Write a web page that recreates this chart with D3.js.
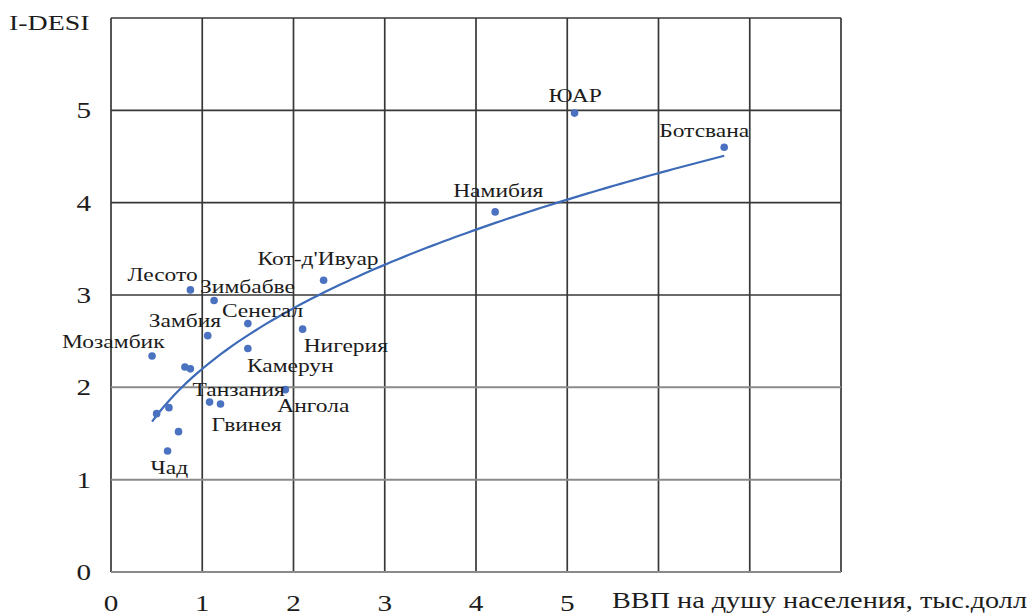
<!DOCTYPE html>
<html>
<head>
<meta charset="utf-8">
<script src="https://cdn.jsdelivr.net/npm/d3@7/dist/d3.min.js"></script>
<style>
  html, body { margin: 0; padding: 0; background: #fff; }
</style>
</head>
<body>
<svg id="chart" width="1035" height="616"></svg>
<script>
// Countries, GDP per capita (thousand USD) and I-DESI index
const countries = ["Лесото", "Зимбабве", "Кот-д'Ивуар", "Сенегал", "Замбия", "Нигерия",
  "Мозамбик", "Камерун", "", "", "Ангола", "Танзания", "Гвинея", "", "", "", "Чад",
  "ЮАР", "Намибия", "Ботсвана"];
const gdpPerCapita = [0.87, 1.13, 2.33, 1.50, 1.06, 2.10, 0.45, 1.50, 0.81, 0.87, 1.91,
  1.08, 1.20, 0.635, 0.50, 0.74, 0.62, 5.08, 4.21, 6.72];
const iDesi = [3.055, 2.94, 3.16, 2.69, 2.56, 2.63, 2.34, 2.42, 2.22, 2.20, 1.975,
  1.84, 1.82, 1.78, 1.715, 1.52, 1.31, 4.97, 3.90, 4.60];

const xTickLabels = ["0", "1", "2", "3", "4", "5"];
const yTickLabels = ["0", "1", "2", "3", "4", "5"];
const xTitle = "ВВП на душу населения, тыс.долл";
const yTitle = "I-DESI";

// Label placement relative to each point (pixels)
const labelOffsets = {
  "Лесото": [-63, -9], "Зимбабве": [-14, -8], "Кот-д'Ивуар": [-66, -15],
  "Сенегал": [-26, -7], "Замбия": [-59, -9], "Мозамбик": [-90, -8],
  "Нигерия": [1, 23], "Камерун": [-1, 23], "Ангола": [-8, 22],
  "Танзания": [-17, -6], "Гвинея": [-9, 27], "Чад": [-17, 23],
  "ЮАР": [-26, -11], "Намибия": [-42, -15], "Ботсвана": [-65, -10]
};

const serif = '"Liberation Serif"';
const textColor = "#1c1c1c";
const widen = 1.27; // text is drawn horizontally widened

const svg = d3.select("#chart");
const plotLeft = 111, plotRight = 841, plotTop = 18, plotBottom = 572;

const x = d3.scaleLinear().domain([0, 8]).range([plotLeft, plotRight]);
const y = d3.scaleLinear().domain([0, 6]).range([plotBottom, plotTop]);

const points = countries.map((c, i) => ({ name: c, gx: gdpPerCapita[i], gy: iDesi[i] }));

// Grid
const grid = svg.append("g");
grid.selectAll("line.v").data(d3.range(0, 9)).join("line")
  .attr("x1", d => x(d)).attr("x2", d => x(d))
  .attr("y1", plotTop).attr("y2", plotBottom)
  .attr("stroke", "#383838").attr("stroke-width", 1.7);
grid.selectAll("line.h").data(d3.range(0, 7)).join("line")
  .attr("x1", plotLeft).attr("x2", plotRight)
  .attr("y1", d => y(d)).attr("y2", d => y(d))
  .attr("stroke", d => (d <= 2 ? "#8a8a8a" : "#383838"))
  .attr("stroke-width", d => (d <= 2 ? 2 : 1.7));

// Place a text at (px, py) with the widened glyphs
function place(sel, px, py) {
  return sel.style("font-family", serif).attr("fill", textColor)
    .attr("transform", (d, i) => `translate(${px(d, i)},${py(d, i)}) scale(${widen},1)`);
}

// Tick labels
svg.append("g").selectAll("text").data(yTickLabels).join("text")
  .attr("text-anchor", "end").attr("font-size", 23).text(d => d)
  .call(place, () => 91, d => y(+d) + 8);
svg.append("g").selectAll("text").data(xTickLabels).join("text")
  .attr("text-anchor", "middle").attr("font-size", 23).text(d => d)
  .call(place, d => x(+d), () => 611);

svg.append("text").attr("font-size", 22).text(yTitle)
  .call(place, () => 9, () => 30);
svg.append("text").attr("x", 612).attr("y", 608)
  .attr("font-size", 23).attr("textLength", 415).attr("lengthAdjust", "spacingAndGlyphs")
  .style("font-family", serif).attr("fill", textColor).text(xTitle);

// Power trend line fitted on log-log values
const lx = points.map(p => Math.log(p.gx)), ly = points.map(p => Math.log(p.gy));
const mx = d3.mean(lx), my = d3.mean(ly);
const slope = d3.sum(lx, (v, i) => (v - mx) * (ly[i] - my)) / d3.sum(lx, v => (v - mx) ** 2);
const coef = Math.exp(my - slope * mx);
const [xmin, xmax] = d3.extent(gdpPerCapita);
const trend = d3.range(0, 101).map(i => {
  const gx = xmin + (xmax - xmin) * i / 100;
  return [gx, coef * Math.pow(gx, slope)];
});
svg.append("path").datum(trend)
  .attr("d", d3.line().x(d => x(d[0])).y(d => y(d[1])))
  .attr("fill", "none").attr("stroke", "#3e6bb8").attr("stroke-width", 2.2);

// Points
svg.append("g").selectAll("circle").data(points).join("circle")
  .attr("cx", d => x(d.gx)).attr("cy", d => y(d.gy)).attr("r", 3.8)
  .attr("fill", "#4a72c0");

// Point labels
svg.append("g").selectAll("text").data(points.filter(p => p.name)).join("text")
  .attr("font-size", 18.5).text(d => d.name)
  .call(place, d => x(d.gx) + labelOffsets[d.name][0], d => y(d.gy) + labelOffsets[d.name][1]);
</script>
</body>
</html>
